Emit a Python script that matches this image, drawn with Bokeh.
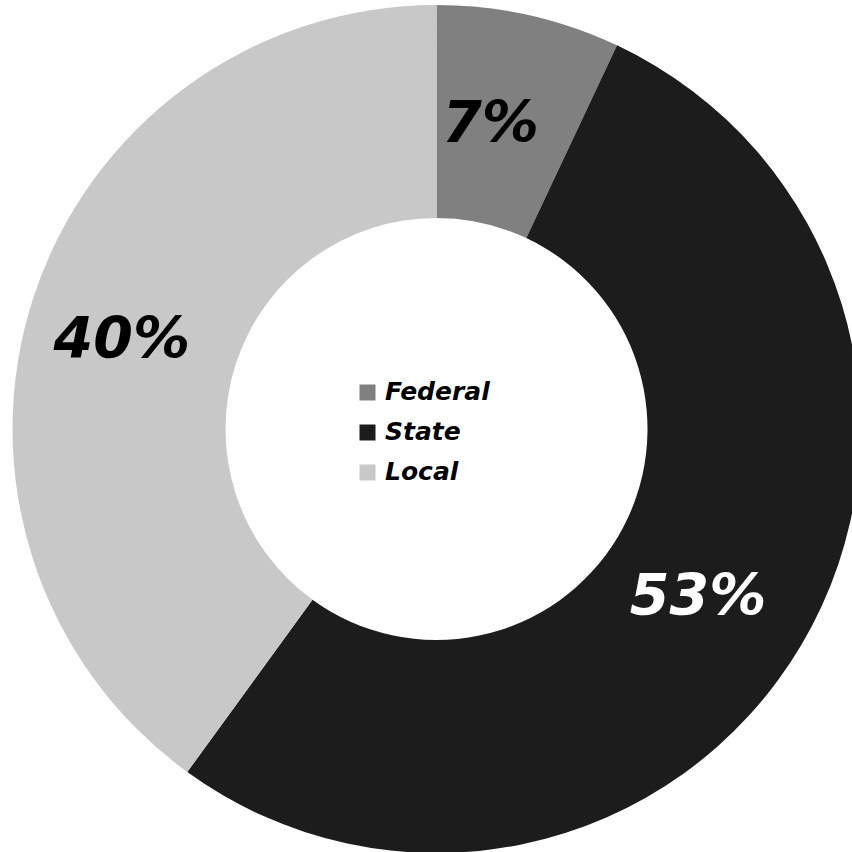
import numpy as np
from bokeh.plotting import figure
from bokeh.models import ColumnDataSource, Legend, LegendItem
from bokeh.core.properties import value
from bokeh.embed import file_html
from bokeh.resources import INLINE

categories = ["Federal", "State", "Local"]
shares = [7, 53, 40]
colors = ["#808080", "#1c1c1c", "#c8c8c8"]
label_colors = ["#000000", "#ffffff", "#000000"]
labels = [f"{s}%" for s in shares]
label_dx = [-14, -7, -18]   # pixel nudges for label placement
label_dy = [-3, 7, 5]

W = H = 852
cx, cy = 436, 423.5
r_out, r_in = 424, 211
r_lab = 312

frac = np.array(shares) / sum(shares)
cum = np.concatenate([[0], np.cumsum(frac)])
start = np.pi / 2 - 2 * np.pi * cum[:-1]
end = np.pi / 2 - 2 * np.pi * cum[1:]
mid = (start + end) / 2

src = ColumnDataSource(dict(
    cat=categories, start=start, end=end, color=colors,
    lx=cx + r_lab * np.cos(mid), ly=cy + r_lab * np.sin(mid),
    label=labels, lcolor=label_colors, dx=label_dx, dy=label_dy,
))

p = figure(width=W, height=H, x_range=(0, W), y_range=(0, H),
           output_backend="svg", toolbar_location=None,
           min_border=0, outline_line_color=None)
p.axis.visible = False
p.grid.visible = False
p.background_fill_color = "white"
p.border_fill_color = "white"

p.annular_wedge(x=cx, y=cy, inner_radius=r_in, outer_radius=r_out,
                start_angle="start", end_angle="end", direction="clock",
                fill_color="color", line_color=None, source=src)

p.text(x="lx", y="ly", text="label", text_color="lcolor",
       x_offset="dx", y_offset="dy",
       text_font=value("DejaVu Sans"), text_font_style="bold italic",
       text_font_size="57px", text_align="center", text_baseline="middle",
       source=src)

items = []
for c, col in zip(categories, colors):
    r = p.rect(x=[cx], y=[cy], width=0, height=0, fill_color=col, line_color=None)
    items.append(LegendItem(label=c, renderers=[r]))

legend = Legend(items=items, location=(357, 366), glyph_width=20, glyph_height=20,
                label_text_font="DejaVu Sans", label_text_font_style="bold italic",
                label_text_font_size="25px", label_text_color="black",
                label_standoff=8, spacing=11, padding=0, margin=0,
                border_line_color=None, background_fill_alpha=0)
p.add_layout(legend, "center")

open("out.html", "w").write(file_html(p, INLINE))
